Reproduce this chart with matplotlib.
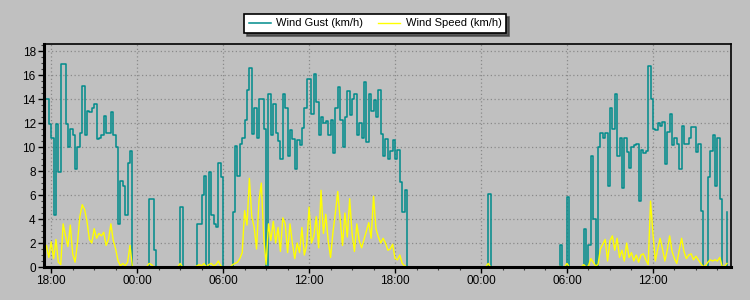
import datetime
import numpy as np
import matplotlib
matplotlib.use("Agg")
import matplotlib.pyplot as plt
import matplotlib.dates as mdates
from matplotlib.ticker import MultipleLocator

# readings every 10 minutes, starting 17:30
start = datetime.datetime(2020, 5, 1, 17, 30)
step_min = 10

wind_gust = [
    14, 14, 11.9, 10.8, 4.3, 11.9, 7.9, 16.9, 16.9, 11.9, 10, 11.5,
    11, 8.2, 10, 11.2, 15.1, 11, 13, 12.9, 13.3, 13.6, 10.7, 10.8,
    11, 12.6, 11.2, 11.2, 12.9, 11, 10, 3.6, 7.2, 6.8, 4.3, 8.7,
    9.7, 0, 0, 0, 0, 0, 0, 0, 5.7, 5.7, 1.4, 0,
    0, 0, 0, 0, 0, 0, 0, 0, 0, 5.0, 0, 0,
    0, 0, 0, 0, 3.6, 3.6, 6.0, 7.6, 0, 7.9, 4.3, 3.6,
    3.3, 8.7, 7.5, 0, 0, 0, 0, 4.6, 10.1, 7.6, 10.3, 10.8,
    12.3, 14.8, 16.6, 11.1, 13.3, 10.8, 14, 14, 11.5, 0, 14.4, 11,
    13.6, 11.2, 10.5, 9, 14.4, 13.3, 9.3, 11.4, 10.7, 8.2, 10.6, 10.2,
    11.6, 13.3, 15.7, 15.7, 12.8, 16.1, 13.8, 11, 12.5, 12, 12.2, 11,
    12.3, 9.5, 13.3, 15.0, 12.3, 10, 12.5, 14.7, 12.7, 14, 14.4, 11,
    12, 10.8, 15.4, 10.4, 14.4, 13, 13.9, 12.5, 14.75, 11.1, 9.3, 10.7,
    9, 9.7, 10.6, 9, 9.75, 7.1, 4.6, 6.4, 0, 0, 0, 0,
    0, 0, 0, 0, 0, 0, 0, 0, 0, 0, 0, 0,
    0, 0, 0, 0, 0, 0, 0, 0, 0, 0, 0, 0,
    0, 0, 0, 0, 0, 0, 6.1, 0, 0, 0, 0, 0,
    0, 0, 0, 0, 0, 0, 0, 0, 0, 0, 0, 0,
    0, 0, 0, 0, 0, 0, 0, 0, 0, 0, 0, 0,
    1.8, 0, 0, 5.8, 0, 0, 0, 0, 0, 0, 3.2, 0,
    1.8, 9.3, 4.0, 0, 10, 11.2, 10.8, 11.2, 6.8, 13.3, 11.5, 14.4,
    9.3, 10.8, 6.6, 10.8, 9.6, 8.3, 10, 10.2, 10.3, 5.5, 9.8, 9.5,
    9.7, 16.8, 14, 11.5, 11.4, 12, 11.8, 12.1, 8.6, 11.3, 12.8, 10.2,
    10.8, 10.3, 8.2, 11.8, 10.3, 10.3, 10.8, 11.7, 11.7, 9.6, 10.3, 4.7,
    0, 0, 7.5, 9.7, 11, 6.8, 10.8, 5.7, 0, 0, 4.6,
]

wind_speed = [
    1.2, 1.8, 0.8, 2.1, 0.7, 2.3, 0.4, 0.2, 3.6, 2.6, 1.7, 3.5,
    1.1, 0.4, 2.0, 4.2, 5.2, 4.8, 3.8, 2.3, 2.0, 3.2, 2.4, 2.8,
    2.6, 2.9, 1.8, 2.3, 3.6, 2.2, 1.5, 0.5, 0.1, 0.3, 0.1, 0.4,
    1.8, 0, 0, 0, 0, 0, 0, 0, 0.3, 0.2, 0, 0,
    0, 0, 0, 0, 0, 0, 0, 0, 0, 0.3, 0, 0,
    0, 0, 0, 0, 0.1, 0.2, 0.1, 0.3, 0, 0.2, 0.3, 0.1,
    0.2, 0.5, 0.1, 0, 0, 0, 0, 0.2, 0.3, 0.4, 0.7, 1.2,
    4.7, 3.5, 7.4, 4.2, 3.3, 1.5, 5.5, 7.0, 2.5, 0.2, 3.6, 2.2,
    3.8, 2.0, 3.3, 1.3, 4.1, 3.6, 1.2, 3.6, 2.0, 0.7, 2.0, 1.2,
    3.3, 1.0, 1.8, 5.0, 2.0, 2.6, 4.2, 1.6, 6.4, 2.8, 4.4, 2.2,
    0.8, 2.9, 4.5, 6.3, 4.0, 1.8, 4.5, 2.5, 5.7, 2.8, 1.3, 3.6,
    2.2, 1.6, 2.3, 3.0, 3.7, 2.4, 5.9, 3.2, 2.5, 2.0, 2.4, 2.0,
    1.4, 1.5, 1.9, 0.7, 0.6, 1.0, 0.3, 0.1, 0, 0, 0, 0,
    0, 0, 0, 0, 0, 0, 0, 0, 0, 0, 0, 0,
    0, 0, 0, 0, 0, 0, 0, 0, 0, 0, 0, 0,
    0, 0, 0, 0, 0, 0, 0.3, 0, 0, 0, 0, 0,
    0, 0, 0, 0, 0, 0, 0, 0, 0, 0, 0, 0,
    0, 0, 0, 0, 0, 0, 0, 0, 0, 0, 0, 0,
    0.05, 0, 0, 0.3, 0, 0, 0, 0, 0, 0, 0.2, 0,
    0.1, 0.7, 0.4, 0.1, 0.2, 1.5, 1.9, 2.3, 0.5, 2.2, 2.6, 1.4,
    2.4, 0.8, 1.4, 0.5, 2.0, 0.8, 1.2, 0.5, 1.0, 0.4, 1.0, 1.1,
    0.6, 0.2, 5.5, 2.8, 0.5, 1.5, 2.4, 1.5, 0.5, 1.4, 2.6, 1.3,
    0.7, 0.3, 1.4, 2.4, 1.3, 0.7, 1.0, 1.1, 0.6, 0.9, 0.6, 0.3,
    0.05, 0.1, 0.4, 0.6, 0.5, 0.6, 0.5, 0.8, 0.05, 0.05, 0.3,
]

times = [start + datetime.timedelta(minutes=step_min * i) for i in range(len(wind_gust))]

plt.rcParams["font.family"] = ["Liberation Sans", "DejaVu Sans"]
bg = "#c0c0c0"

fig = plt.figure(figsize=(7.5, 3), dpi=100, facecolor=bg)
ax = fig.add_axes([0.0587, 0.11, 0.916, 0.743])
ax.set_facecolor(bg)

ax.plot(times, wind_gust, color="#008b8b", lw=1.1, drawstyle="steps-post", label="Wind Gust (km/h)")
ax.plot(times, wind_speed, color="#ffff00", lw=1.0, label="Wind Speed (km/h)")

ax.set_ylim(0, 18.6)
ax.set_xlim(start, start + datetime.timedelta(hours=47.95))

ax.yaxis.set_major_locator(MultipleLocator(2))
ax.yaxis.set_minor_locator(MultipleLocator(0.5))
ax.xaxis.set_major_locator(mdates.HourLocator(byhour=[0, 6, 12, 18]))
ax.xaxis.set_minor_locator(MultipleLocator(1.5 / 24))
ax.xaxis.set_major_formatter(mdates.DateFormatter("%H:%M"))

ax.grid(True, which="major", color="#8a8a8a", linestyle=(0, (1, 2)), lw=0.9)
ax.tick_params(which="major", length=4, width=1, color="black", labelsize=8.5, pad=2)
ax.tick_params(which="minor", length=2, width=0.8, color="#404040")

for side in ("top", "right"):
    ax.spines[side].set_linewidth(1.2)
for side in ("left", "bottom"):
    ax.spines[side].set_linewidth(2.2)

leg = fig.legend(loc="center", bbox_to_anchor=(0.5, 0.922), ncol=2, fontsize=8,
                 frameon=True, fancybox=False, shadow={"color": "#404040", "alpha": 0.8},
                 edgecolor="black", facecolor="white", framealpha=1,
                 handlelength=2.0, columnspacing=1.3, borderpad=0.4, handletextpad=0.5)
leg.get_frame().set_linewidth(1.2)

fig.savefig("out.png", dpi=100, facecolor=bg)
